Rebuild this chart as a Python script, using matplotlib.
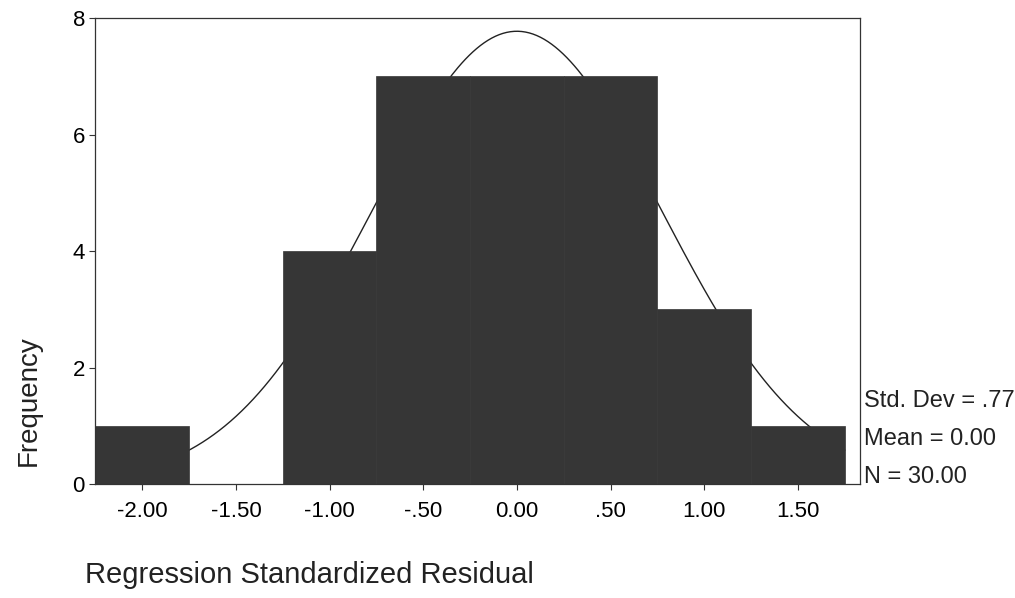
import numpy as np
import matplotlib
matplotlib.use("Agg")
import matplotlib.pyplot as plt

plt.rcParams['font.family'] = ['Liberation Sans', 'DejaVu Sans']

# histogram of residuals (bin centres, width .5)
bin_centers = [-2.0, -1.5, -1.0, -0.5, 0.0, 0.5, 1.0, 1.5]
counts = [1, 0, 4, 7, 7, 7, 3, 1]
bin_width = 0.5

x_ticks = [-2.0, -1.5, -1.0, -0.5, 0.0, 0.5, 1.0, 1.5]
x_tick_labels = ['-2.00', '-1.50', '-1.00', '-.50', '0.00', '.50', '1.00', '1.50']
y_ticks = [0, 2, 4, 6, 8]

std_dev = 0.77
mean = 0.00
n = 30

fig = plt.figure(figsize=(10.15, 5.98), dpi=100)
ax = fig.add_axes([0.094, 0.19, 0.753, 0.78])

# normal curve behind the bars
xs = np.linspace(-2.25, 1.75, 400)
ys = n * bin_width / (std_dev * np.sqrt(2 * np.pi)) * np.exp(-0.5 * ((xs - mean) / std_dev) ** 2)
ax.plot(xs, ys, color='#222222', lw=1.0, zorder=1)

ax.bar(bin_centers, counts, width=bin_width, color='#363636', edgecolor='#363636',
       linewidth=0.5, zorder=2)

ax.set_xlim(-2.25, 1.83)
ax.set_ylim(0, 8)
ax.set_xticks(x_ticks)
ax.set_xticklabels(x_tick_labels)
ax.set_yticks(y_ticks)
ax.tick_params(axis='both', labelsize=16, length=4, width=0.8, color='#333333')
ax.tick_params(axis='x', pad=8)
for s in ax.spines.values():
    s.set_color('#333333')
    s.set_linewidth(0.9)

fig.text(0.028, 0.44, 'Frequency', rotation=90, fontsize=20, color='#222222',
         ha='center', va='top')
fig.text(0.084, 0.015, 'Regression Standardized Residual', fontsize=21,
         color='#222222', ha='left', va='bottom')

stats = ['Std. Dev = .77', 'Mean = 0.00', 'N = 30.00']
for i, s in enumerate(stats):
    fig.text(0.851, 0.33 - i * 0.064, s, fontsize=17, color='#222222',
             ha='left', va='center')

fig.savefig('out.png', dpi=100)
